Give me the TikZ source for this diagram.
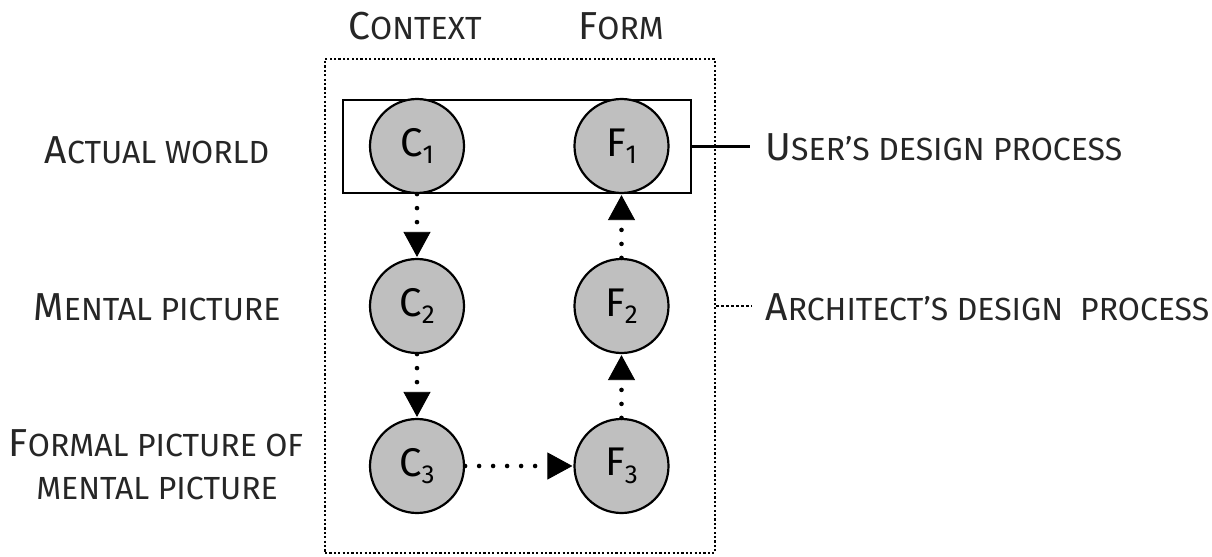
\documentclass[tikz,border=0pt]{standalone}
\usepackage{fontspec}
\setmainfont{Fira Sans}
\usetikzlibrary{arrows.meta}
\newcommand{\fsc}[2]{{\fontsize{19.5}{24}\selectfont #1}{\fontsize{16}{24}\selectfont #2}}
\newcommand{\csub}[2]{{\fontsize{20}{24}\selectfont #1\raisebox{-0.35ex}{\fontsize{13}{14}\selectfont #2}}}
\tikzset{
  circ/.style={circle, draw=black, line width=1.1pt, fill=black!25, minimum size=47pt, inner sep=0pt},
  lab/.style={inner sep=0pt, align=center, text=black!85},
  flow/.style={line width=2.3pt, line cap=round, dash pattern=on 0pt off 7pt,
    -{Triangle[length=12.5pt,width=13.5pt,line width=0.4pt]}, shorten >=0.5pt},
  solidbox/.style={draw, line width=1.1pt, minimum width=174pt, minimum height=46.5pt, inner sep=0pt},
  dotbox/.style={draw, line width=1.4pt, dash pattern=on 1.1pt off 1.1pt, minimum width=195pt, minimum height=247pt, inner sep=0pt},
}
\begin{document}
\begin{tikzpicture}[x=0.5pt,y=-0.5pt]
\useasboundingbox (0,0) rectangle (1212,557);
\node[dotbox] (arch) at (520,306) {};
\node[solidbox] (user) at (517,146.5) {};
\node[circ] (C1) at (417,146) {\csub{C}{1}};
\node[circ] (F1) at (621.5,146) {\csub{F}{1}};
\node[circ] (C2) at (417,306) {\csub{C}{2}};
\node[circ] (F2) at (621.5,306) {\csub{F}{2}};
\node[circ] (C3) at (417,466) {\csub{C}{3}};
\node[circ] (F3) at (621.5,466) {\csub{F}{3}};
\draw[flow] (C1) -- (C2);
\draw[flow] (C2) -- (C3);
\draw[flow] (C3) -- (F3);
\draw[flow] (F3) -- (F2);
\draw[flow] (F2) -- (F1);
\node[lab] (hc) at (415,26) {\fsc{C}{ONTEXT}};
\node[lab] (hf) at (621,26) {\fsc{F}{ORM}};
\node[lab] (l1) at (157,150) {\fsc{A}{CTUAL WORLD}};
\node[lab] (l2) at (157,307) {\fsc{M}{ENTAL PICTURE}};
\node[lab, anchor=center] (l3) at (156,443) {\fsc{F}{ORMAL PICTURE OF}};
\node[lab, anchor=center] (l4) at (157,488) {{\fontsize{16}{24}\selectfont MENTAL PICTURE}};
\coordinate (ue) at (750,146.5);
\coordinate (ae) at (752,306);
\draw[line width=1.1pt] (user.east) -- (ue);
\draw[line width=1pt, dash pattern=on 1.5pt off 1pt] (arch.east) -- (ae);
\node[lab, anchor=west] (t1) at (765,147) {\fsc{U}{SER'S DESIGN PROCESS}};
\node[lab, anchor=west] (t2) at (765,307) {\fsc{A}{RCHITECT'S DESIGN\ \ PROCESS}};
\end{tikzpicture}
\end{document}
